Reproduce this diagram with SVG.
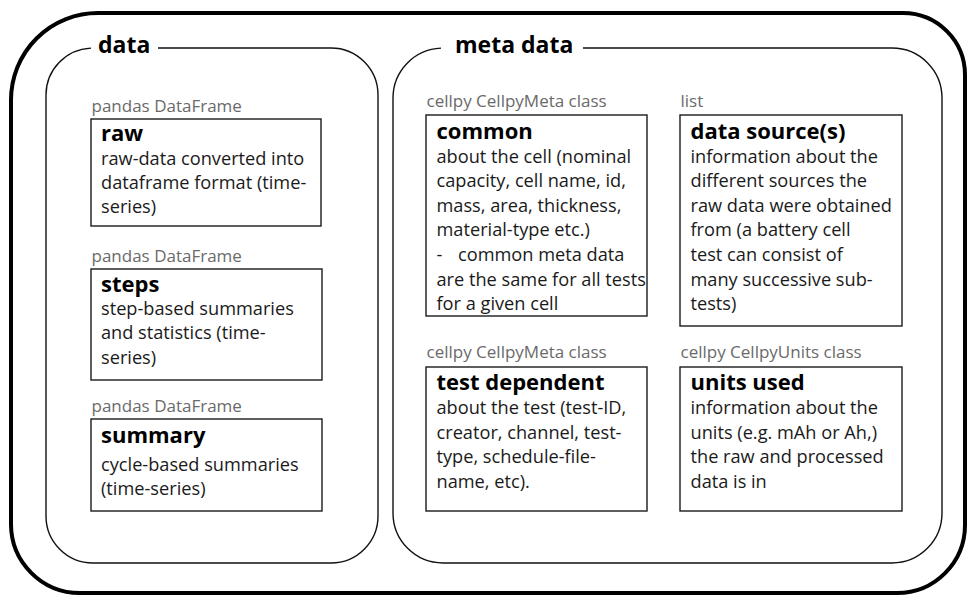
<svg xmlns="http://www.w3.org/2000/svg" width="968" height="596" viewBox="0 0 968 596">
<style>
text{font-family:"Open Sans","Noto Sans","Liberation Sans",sans-serif}
.outer{fill:none;stroke:#000;stroke-width:4}
.cont{fill:none;stroke:#111;stroke-width:1.4}
.ctitle{font-size:23px;font-weight:700;fill:#000}
.box{fill:#fff;stroke:#1a1a1a;stroke-width:1.4}
.lbl{font-size:17px;fill:#6a6a6a}
.btitle{font-size:22px;font-weight:700;fill:#000}
.body{font-size:18.2px;fill:#1a1a1a}
</style>
<rect width="968" height="596" fill="#fff"/>
<g id="outer">
<path class="outer" d="M98,13 H903 A62,62 0 0 1 965,75 V525 A68,68 0 0 1 897,593 H80 A69,69 0 0 1 11,524 V100 A87,87 0 0 1 98,13 Z"/>
</g>
<g id="data-container">
<path class="cont" d="M158,48 H331 A47,47 0 0 1 378,95 V516 A47,47 0 0 1 331,563 H93 A47,47 0 0 1 46,516 V95 A47,47 0 0 1 91,48.1"/>
<text class="ctitle" x="98" y="53">data</text>
</g>
<g id="meta-container">
<path class="cont" d="M583,48 H892 A50,50 0 0 1 942,98 V513 A50,50 0 0 1 892,563 H443 A50,50 0 0 1 393,513 V98 A50,50 0 0 1 441,48.1"/>
<text class="ctitle" x="455" y="53">meta data</text>
</g>
<g id="raw">
<text class="lbl" x="91.5" y="111.5">pandas DataFrame</text>
<rect class="box" x="91" y="119" width="230" height="107"/>
<text class="btitle" x="101" y="141">raw</text>
<text class="body"><tspan x="101" y="164.5">raw-data converted into</tspan><tspan x="101" y="188.6">dataframe format (time-</tspan><tspan x="101" y="212.7">series)</tspan></text>
</g>
<g id="steps">
<text class="lbl" x="91.5" y="261.5">pandas DataFrame</text>
<rect class="box" x="91" y="269" width="231" height="111"/>
<text class="btitle" x="101" y="291.5">steps</text>
<text class="body"><tspan x="101" y="315">step-based summaries</tspan><tspan x="101" y="339.3">and statistics (time-</tspan><tspan x="101" y="363.6">series)</tspan></text>
</g>
<g id="summary">
<text class="lbl" x="91.5" y="411.5">pandas DataFrame</text>
<rect class="box" x="91" y="419" width="231" height="92"/>
<text class="btitle" x="101" y="443">summary</text>
<text class="body"><tspan x="101" y="470.5">cycle-based summaries</tspan><tspan x="101" y="495">(time-series)</tspan></text>
</g>
<g id="common">
<text class="lbl" x="426.5" y="107">cellpy CellpyMeta class</text>
<rect class="box" x="426" y="115" width="221" height="201"/>
<text class="btitle" x="436.5" y="138.5">common</text>
<text class="body"><tspan x="436.5" y="162.5">about the cell (nominal</tspan><tspan x="436.5" y="187">capacity, cell name, id,</tspan><tspan x="436.5" y="211.7">mass, area, thickness,</tspan><tspan x="436.5" y="236.3">material-type etc.)</tspan><tspan x="436.5" y="261">-</tspan><tspan x="458" y="261">common meta data</tspan><tspan x="436.5" y="285.7">are the same for all tests</tspan><tspan x="436.5" y="310.3">for a given cell</tspan></text>
</g>
<g id="data-sources">
<text class="lbl" x="680.5" y="107">list</text>
<rect class="box" x="680" y="115" width="222" height="211"/>
<text class="btitle" x="690.5" y="138.5">data source(s)</text>
<text class="body"><tspan x="690.5" y="162.5">information about the</tspan><tspan x="690.5" y="187">different sources the</tspan><tspan x="690.5" y="211.7">raw data were obtained</tspan><tspan x="690.5" y="236.3">from (a battery cell</tspan><tspan x="690.5" y="261">test can consist of</tspan><tspan x="690.5" y="285.7">many successive sub-</tspan><tspan x="690.5" y="310.3">tests)</tspan></text>
</g>
<g id="test-dependent">
<text class="lbl" x="426.5" y="358.3">cellpy CellpyMeta class</text>
<rect class="box" x="426" y="367" width="221" height="144"/>
<text class="btitle" x="436.5" y="390">test dependent</text>
<text class="body"><tspan x="436.5" y="414">about the test (test-ID,</tspan><tspan x="436.5" y="438.7">creator, channel, test-</tspan><tspan x="436.5" y="463.3">type, schedule-file-</tspan><tspan x="436.5" y="487.7">name, etc).</tspan></text>
</g>
<g id="units-used">
<text class="lbl" x="680.5" y="358.3">cellpy CellpyUnits class</text>
<rect class="box" x="680" y="367" width="222" height="144"/>
<text class="btitle" x="690.5" y="390">units used</text>
<text class="body"><tspan x="690.5" y="414">information about the</tspan><tspan x="690.5" y="438.7">units (e.g. mAh or Ah,)</tspan><tspan x="690.5" y="463.3">the raw and processed</tspan><tspan x="690.5" y="487.7">data is in</tspan></text>
</g>
<g id="connectors"/>
</svg>
